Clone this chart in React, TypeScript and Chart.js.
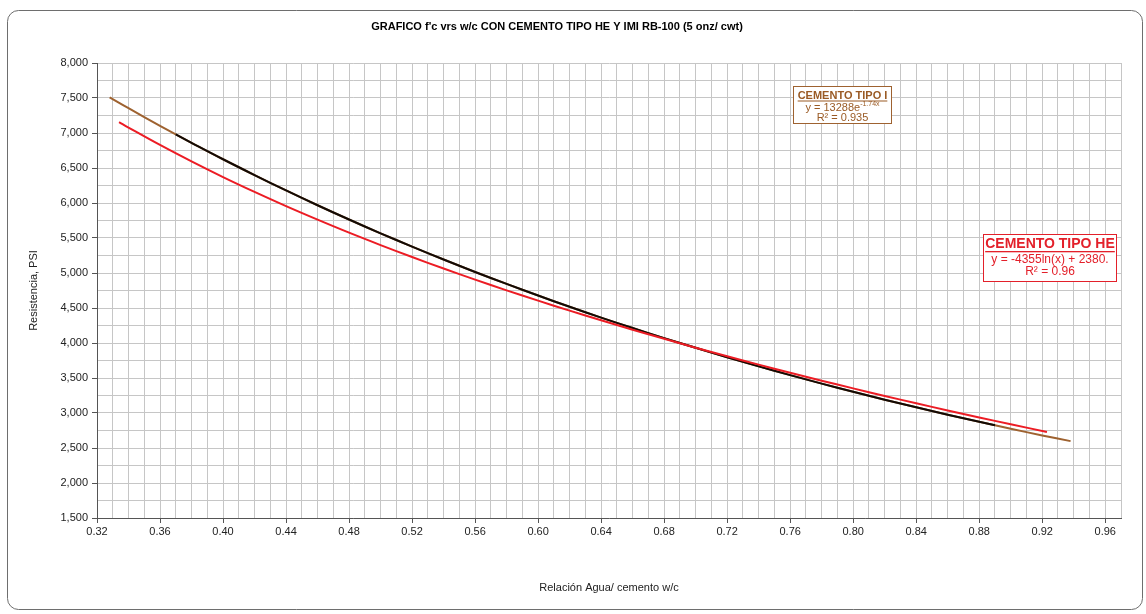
import { useEffect, useRef } from 'react';
import { Chart, registerables } from 'chart.js';

Chart.register(...registerables);

const TITLE = "GRAFICO f'c vrs w/c CON CEMENTO TIPO HE Y IMI RB-100 (5 onz/ cwt)";
const X_TITLE = 'Relación Agua/ cemento w/c';
const Y_TITLE = 'Resistencia, PSI';

// Cemento Tipo I – trend line (brown)
const wcTrendI = [0.328, 0.34, 0.36, 0.38, 0.4, 0.42, 0.44, 0.46, 0.48, 0.5, 0.52, 0.54, 0.56, 0.58, 0.6, 0.62, 0.64, 0.66, 0.68, 0.7, 0.72, 0.74, 0.76, 0.78, 0.8, 0.82, 0.84, 0.86, 0.88, 0.9, 0.92, 0.938];
const fcTrendI = [7509, 7354, 7103, 6860, 6625, 6399, 6180, 5968, 5764, 5567, 5377, 5193, 5015, 4844, 4678, 4518, 4363, 4214, 4070, 3931, 3796, 3666, 3541, 3420, 3303, 3190, 3081, 2975, 2874, 2775, 2680, 2598];

// Cemento Tipo I – data line (black)
const wcDataI = [0.37, 0.38, 0.4, 0.42, 0.44, 0.46, 0.48, 0.5, 0.52, 0.54, 0.56, 0.58, 0.6, 0.62, 0.64, 0.66, 0.68, 0.7, 0.72, 0.74, 0.76, 0.78, 0.8, 0.82, 0.84, 0.86, 0.88, 0.89];
const fcDataI = [6980, 6860, 6625, 6399, 6180, 5968, 5764, 5567, 5377, 5193, 5015, 4844, 4678, 4518, 4363, 4214, 4070, 3931, 3796, 3666, 3541, 3420, 3303, 3190, 3081, 2975, 2874, 2824];

// Cemento Tipo HE (red)
const wcHE = [0.334, 0.34, 0.36, 0.38, 0.4, 0.42, 0.44, 0.46, 0.48, 0.5, 0.52, 0.54, 0.56, 0.58, 0.6, 0.62, 0.64, 0.66, 0.68, 0.7, 0.72, 0.74, 0.76, 0.78, 0.8, 0.82, 0.84, 0.86, 0.88, 0.9, 0.923];
const fcHE = [7156, 7078, 6829, 6594, 6370, 6158, 5955, 5762, 5576, 5399, 5228, 5064, 4905, 4752, 4605, 4462, 4324, 4190, 4060, 3933, 3811, 3691, 3575, 3462, 3352, 3244, 3139, 3037, 2937, 2839, 2729];

const xMajorTicks = [0.32, 0.36, 0.4, 0.44, 0.48, 0.52, 0.56, 0.6, 0.64, 0.68, 0.72, 0.76, 0.8, 0.84, 0.88, 0.92, 0.96];
const yMajorTicks = [1500, 2000, 2500, 3000, 3500, 4000, 4500, 5000, 5500, 6000, 6500, 7000, 7500, 8000];

const BROWN = '#9E6230';
const BROWN_TEXT = '#9A5A24';
const RED = '#EC1C24';
const RED_TEXT = '#E3202A';
const FONT = '"Liberation Sans", Arial, sans-serif';

const toPts = (xs: number[], ys: number[]) => xs.map((x, i) => ({ x, y: ys[i] }));

const isXMajor = (v: number) => xMajorTicks.some((t) => Math.abs(t - v) < 1e-6);
const isYMajor = (v: number) => yMajorTicks.some((t) => Math.abs(t - v) < 1e-6);

const overlayPlugin = {
  id: 'overlay',
  beforeDraw(chart: any) {
    const ctx = chart.ctx as CanvasRenderingContext2D;
    ctx.save();
    ctx.fillStyle = '#ffffff';
    ctx.fillRect(0, 0, chart.width, chart.height);
    // frame
    const x0 = 7.5, y0 = 10.5, x1 = 1142.5, y1 = 609.5, r = 11;
    ctx.beginPath();
    ctx.moveTo(x0 + r, y0);
    ctx.lineTo(x1 - r, y0);
    ctx.arcTo(x1, y0, x1, y0 + r, r);
    ctx.lineTo(x1, y1 - r);
    ctx.arcTo(x1, y1, x1 - r, y1, r);
    ctx.lineTo(x0 + r, y1);
    ctx.arcTo(x0, y1, x0, y1 - r, r);
    ctx.lineTo(x0, y0 + r);
    ctx.arcTo(x0, y0, x0 + r, y0, r);
    ctx.closePath();
    ctx.strokeStyle = '#6e6e6e';
    ctx.lineWidth = 1;
    ctx.stroke();
    // title
    ctx.fillStyle = '#000';
    ctx.font = `bold 11px ${FONT}`;
    ctx.textAlign = 'center';
    ctx.textBaseline = 'middle';
    ctx.fillText(TITLE, 557, 26.5);
    ctx.restore();
  },
  afterDraw(chart: any) {
    const ctx = chart.ctx as CanvasRenderingContext2D;
    ctx.save();
    ctx.textBaseline = 'middle';
    ctx.textAlign = 'left';

    // Box Tipo I
    ctx.fillStyle = '#fff';
    ctx.fillRect(793.5, 86.5, 98, 37);
    ctx.strokeStyle = BROWN;
    ctx.lineWidth = 1;
    ctx.strokeRect(793.5, 86.5, 98, 37);
    const cx1 = 842.5;
    ctx.fillStyle = BROWN_TEXT;
    ctx.font = `bold 11px ${FONT}`;
    let t = 'CEMENTO TIPO I';
    let w = ctx.measureText(t).width;
    ctx.fillText(t, cx1 - w / 2, 95.5);
    ctx.fillRect(cx1 - w / 2, 100.5, w, 1);
    ctx.font = `11px ${FONT}`;
    const base = 'y = 13288e';
    const wb = ctx.measureText(base).width;
    ctx.font = `7px ${FONT}`;
    const sup = '-1.74x';
    const ws = ctx.measureText(sup).width;
    const sx = cx1 - (wb + ws) / 2;
    ctx.font = `11px ${FONT}`;
    ctx.fillText(base, sx, 107.5);
    ctx.font = `7px ${FONT}`;
    ctx.fillText(sup, sx + wb, 104);
    ctx.font = `11px ${FONT}`;
    t = 'R² = 0.935';
    w = ctx.measureText(t).width;
    ctx.fillText(t, cx1 - w / 2, 118);

    // Box Tipo HE
    ctx.fillStyle = '#fff';
    ctx.fillRect(983.5, 234.5, 133, 47);
    ctx.strokeStyle = RED_TEXT;
    ctx.strokeRect(983.5, 234.5, 133, 47);
    const cx2 = 1050;
    ctx.fillStyle = RED_TEXT;
    ctx.font = `bold 14px ${FONT}`;
    t = 'CEMENTO TIPO HE';
    w = ctx.measureText(t).width;
    ctx.fillText(t, cx2 - w / 2, 244.5);
    ctx.fillRect(cx2 - w / 2, 251, w, 1.3);
    ctx.font = `12px ${FONT}`;
    t = 'y = -4355ln(x) + 2380.';
    w = ctx.measureText(t).width;
    ctx.fillText(t, cx2 - w / 2, 259.5);
    t = 'R² = 0.96';
    w = ctx.measureText(t).width;
    ctx.fillText(t, cx2 - w / 2, 272);
    ctx.restore();
  },
};

export default function App() {
  const ref = useRef<HTMLCanvasElement | null>(null);

  useEffect(() => {
    if (!ref.current) return;
    const chart = new Chart(ref.current, {
      type: 'scatter',
      data: {
        datasets: [
          {
            label: 'Cemento Tipo HE',
            data: toPts(wcHE, fcHE),
            showLine: true,
            borderColor: RED,
            borderWidth: 2,
            pointRadius: 0,
            tension: 0.4,
            order: 0,
          },
          {
            label: 'Cemento Tipo I',
            data: toPts(wcDataI, fcDataI),
            showLine: true,
            borderColor: '#120a05',
            borderWidth: 2,
            pointRadius: 0,
            tension: 0.4,
            order: 1,
          },
          {
            label: 'Tendencia Tipo I',
            data: toPts(wcTrendI, fcTrendI),
            showLine: true,
            borderColor: BROWN,
            borderWidth: 2,
            pointRadius: 0,
            tension: 0.4,
            order: 2,
          },
        ],
      },
      options: {
        animation: false,
        responsive: false,
        devicePixelRatio: 1,
        layout: { padding: { top: 63, right: 25, bottom: 0, left: 0 } },
        plugins: {
          legend: { display: false },
          tooltip: { enabled: false },
          title: { display: false },
        },
        scales: {
          x: {
            type: 'linear',
            min: 0.32,
            max: 0.97,
            afterFit: (s: any) => {
              s.height = 96;
            },
            border: { color: '#555', width: 1 },
            grid: {
              color: '#c6c6c6',
              lineWidth: 1,
              tickLength: 5,
              tickColor: (c: any) => (c.tick && isXMajor(c.tick.value) ? '#555' : 'rgba(0,0,0,0)'),
            },
            ticks: {
              stepSize: 0.01,
              autoSkip: false,
              maxRotation: 0,
              minRotation: 0,
              maxTicksLimit: 200,
              padding: 2,
              color: '#222',
              font: { family: FONT, size: 11 },
              callback: (v: any) => (isXMajor(Number(v)) ? Number(v).toFixed(2) : ''),
            },
            title: {
              display: true,
              text: X_TITLE,
              color: '#222',
              font: { family: FONT, size: 11 },
              padding: { top: 0, bottom: 19 },
            },
          },
          y: {
            type: 'linear',
            min: 1500,
            max: 8000,
            afterFit: (s: any) => {
              s.width = 97;
            },
            border: { color: '#555', width: 1 },
            grid: {
              color: '#c6c6c6',
              lineWidth: 1,
              tickLength: 5,
              tickColor: (c: any) => (c.tick && isYMajor(c.tick.value) ? '#555' : 'rgba(0,0,0,0)'),
            },
            ticks: {
              stepSize: 250,
              autoSkip: false,
              maxTicksLimit: 200,
              padding: 4,
              color: '#222',
              font: { family: FONT, size: 11 },
              callback: (v: any) => (isYMajor(Number(v)) ? Number(v).toLocaleString('en-US') : ''),
            },
            title: {
              display: true,
              text: Y_TITLE,
              color: '#222',
              font: { family: FONT, size: 11 },
              padding: { top: 27, bottom: 0 },
            },
          },
        },
      },
      plugins: [overlayPlugin],
    });
    return () => chart.destroy();
  }, []);

  return (
    <div style={{ position: 'fixed', left: 0, top: 0, width: 1146, height: 614 }}>
      <canvas ref={ref} width={1146} height={614} style={{ display: 'block' }} />
    </div>
  );
}
